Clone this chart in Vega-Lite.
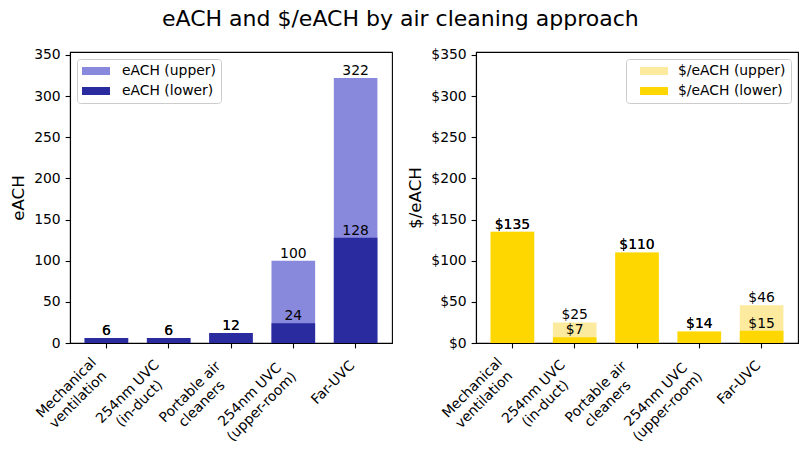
{
  "$schema": "https://vega.github.io/schema/vega-lite/v6.json",
  "padding": {"left": 10, "top": 8, "right": 5, "bottom": 5},
  "title": {
    "text": "eACH and $/eACH by air cleaning approach",
    "fontSize": 22,
    "font": "DejaVu Sans",
    "fontWeight": "normal",
    "color": "#000",
    "anchor": "middle",
    "offset": 16,
    "dx": -4
  },
  "datasets": {
    "bars": [
      {"approach": "Mechanical\nventilation", "measure": "eACH", "series": "eACH (upper)", "value": 6},
      {"approach": "254nm UVC\n(in-duct)", "measure": "eACH", "series": "eACH (upper)", "value": 6},
      {"approach": "Portable air\ncleaners", "measure": "eACH", "series": "eACH (upper)", "value": 12},
      {"approach": "254nm UVC\n(upper-room)", "measure": "eACH", "series": "eACH (upper)", "value": 100},
      {"approach": "Far-UVC", "measure": "eACH", "series": "eACH (upper)", "value": 322},
      {"approach": "Mechanical\nventilation", "measure": "eACH", "series": "eACH (lower)", "value": 6},
      {"approach": "254nm UVC\n(in-duct)", "measure": "eACH", "series": "eACH (lower)", "value": 6},
      {"approach": "Portable air\ncleaners", "measure": "eACH", "series": "eACH (lower)", "value": 12},
      {"approach": "254nm UVC\n(upper-room)", "measure": "eACH", "series": "eACH (lower)", "value": 24},
      {"approach": "Far-UVC", "measure": "eACH", "series": "eACH (lower)", "value": 128},
      {"approach": "Mechanical\nventilation", "measure": "cost", "series": "$/eACH (upper)", "value": 135},
      {"approach": "254nm UVC\n(in-duct)", "measure": "cost", "series": "$/eACH (upper)", "value": 25},
      {"approach": "Portable air\ncleaners", "measure": "cost", "series": "$/eACH (upper)", "value": 110},
      {"approach": "254nm UVC\n(upper-room)", "measure": "cost", "series": "$/eACH (upper)", "value": 14},
      {"approach": "Far-UVC", "measure": "cost", "series": "$/eACH (upper)", "value": 46},
      {"approach": "Mechanical\nventilation", "measure": "cost", "series": "$/eACH (lower)", "value": 135},
      {"approach": "254nm UVC\n(in-duct)", "measure": "cost", "series": "$/eACH (lower)", "value": 7},
      {"approach": "Portable air\ncleaners", "measure": "cost", "series": "$/eACH (lower)", "value": 110},
      {"approach": "254nm UVC\n(upper-room)", "measure": "cost", "series": "$/eACH (lower)", "value": 14},
      {"approach": "Far-UVC", "measure": "cost", "series": "$/eACH (lower)", "value": 15}
    ]
  },
  "data": {"name": "bars"},
  "spacing": 84,
  "bounds": "flush",
  "resolve": {"scale": {"color": "independent"}, "legend": {"color": "independent"}},
  "hconcat": [
    {
      "width": 322,
      "height": 291,
      "transform": [{"filter": "datum.measure === 'eACH'"}],
      "encoding": {
        "x": {
          "field": "approach",
          "type": "nominal",
          "sort": null,
          "scale": {"paddingInner": 0.3, "paddingOuter": 0.234},
          "axis": {"title": null}
        },
        "y": {
          "field": "value",
          "type": "quantitative",
          "stack": null,
          "scale": {"domain": [0, 353.5], "nice": false},
          "axis": {"title": "eACH", "values": [0, 50, 100, 150, 200, 250, 300, 350], "format": "d"}
        }
      },
      "layer": [
        {
          "mark": {"type": "bar"},
          "encoding": {
            "color": {
              "field": "series",
              "type": "nominal",
              "scale": {"domain": ["eACH (upper)", "eACH (lower)"], "range": ["#8888dd", "#2b2ba0"]},
              "legend": {"orient": "top-left", "symbolType": "M-1,-0.57H3V0.57H-1Z", "labelOffset": 26}
            }
          }
        },
        {
          "mark": {"type": "text", "baseline": "bottom", "fontSize": 13.9, "color": "#000"},
          "encoding": {"text": {"field": "value", "type": "quantitative", "format": "d"}}
        }
      ]
    },
    {
      "width": 322,
      "height": 291,
      "transform": [{"filter": "datum.measure === 'cost'"}],
      "encoding": {
        "x": {
          "field": "approach",
          "type": "nominal",
          "sort": null,
          "scale": {"paddingInner": 0.3, "paddingOuter": 0.234},
          "axis": {"title": null}
        },
        "y": {
          "field": "value",
          "type": "quantitative",
          "stack": null,
          "scale": {"domain": [0, 353.5], "nice": false},
          "axis": {"title": "$/eACH", "values": [0, 50, 100, 150, 200, 250, 300, 350], "labelExpr": "'$' + datum.label"}
        }
      },
      "layer": [
        {
          "mark": {"type": "bar"},
          "encoding": {
            "color": {
              "field": "series",
              "type": "nominal",
              "scale": {"domain": ["$/eACH (upper)", "$/eACH (lower)"], "range": ["#fcea9e", "#ffd700"]},
              "legend": {"orient": "top-right", "symbolType": "M0.29,-0.57H4.29V0.57H0.29Z", "labelOffset": 33}
            }
          }
        },
        {
          "mark": {"type": "text", "baseline": "bottom", "fontSize": 13.9, "color": "#000"},
          "encoding": {"text": {"field": "value", "type": "quantitative", "format": "$.0f"}}
        }
      ]
    }
  ],
  "config": {
    "font": "DejaVu Sans",
    "view": {"stroke": "#000", "strokeWidth": 1.1},
    "axis": {
      "domainColor": "#000",
      "domainWidth": 1.1,
      "tickColor": "#000",
      "tickSize": 4.9,
      "tickWidth": 1.1,
      "labelColor": "#000",
      "labelFont": "DejaVu Sans",
      "labelFontSize": 13.9,
      "labelPadding": 4.9,
      "titleFont": "DejaVu Sans",
      "titleFontSize": 16.7,
      "titleFontWeight": "normal",
      "titleColor": "#000",
      "grid": false
    },
    "axisX": {
      "labelAngle": -45,
      "labelAlign": "center",
      "labelBaseline": "top",
      "labelLineHeight": 16.7,
      "labelExpr": "split(datum.label, '\\n')",
      "labelOffset": {"expr": "indexof(datum.value, 'Mechanical') >= 0 ? -44.9 : indexof(datum.value, 'in-duct') >= 0 ? -45.8 : indexof(datum.value, 'Portable') >= 0 ? -45.7 : indexof(datum.value, 'upper-room') >= 0 ? -48.1 : -27.3"},
      "labelPadding": {"expr": "indexof(datum.value, 'Mechanical') >= 0 ? 34.8 : indexof(datum.value, 'in-duct') >= 0 ? 38.7 : indexof(datum.value, 'Portable') >= 0 ? 38.9 : indexof(datum.value, 'upper-room') >= 0 ? 41.7 : 29.5"}
    },
    "axisY": {"titlePadding": 6},
    "legend": {
      "title": null,
      "offset": 7,
      "symbolSize": 196,
      "symbolStrokeWidth": 0,
      "symbolOpacity": 1,
      "labelFont": "DejaVu Sans",
      "labelFontSize": 13.9,
      "labelColor": "#000",
      "rowPadding": 6,
      "padding": 5,
      "fillColor": "rgba(255,255,255,0.8)",
      "strokeColor": "#cccccc",
      "cornerRadius": 3
    }
  }
}
